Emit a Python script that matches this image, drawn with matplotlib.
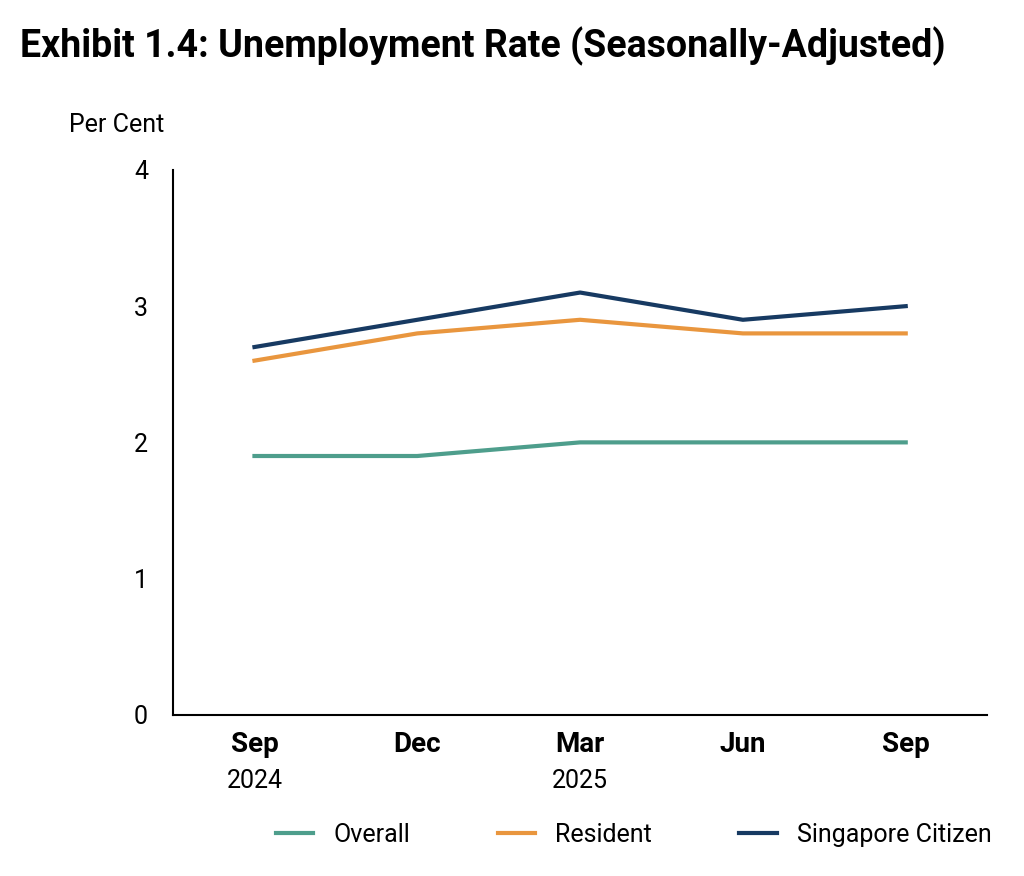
import matplotlib
matplotlib.use("Agg")
import matplotlib.pyplot as plt

plt.rcParams['font.family'] = ['Roboto', 'DejaVu Sans']

quarters = ["Sep", "Dec", "Mar", "Jun", "Sep"]
years = ["2024", "", "2025", "", ""]
overall = [1.9, 1.9, 2.0, 2.0, 2.0]
resident = [2.6, 2.8, 2.9, 2.8, 2.8]
citizen = [2.7, 2.9, 3.1, 2.9, 3.0]

colors = {"Overall": "#4E9E8C", "Resident": "#E9963E", "Singapore Citizen": "#173A62"}

fig = plt.figure(figsize=(10.24, 8.76), dpi=100)
ax = fig.add_axes([0.169, 0.184, 0.795, 0.622])

x = list(range(len(quarters)))
ax.plot(x, overall, color=colors["Overall"], lw=3, label="Overall")
ax.plot(x, resident, color=colors["Resident"], lw=3, label="Resident")
ax.plot(x, citizen, color=colors["Singapore Citizen"], lw=3, label="Singapore Citizen")

ax.set_xlim(-0.5, 4.5)
ax.set_ylim(0, 4)
ax.set_yticks([0, 1, 2, 3, 4])
ax.set_xticks(x)
ax.set_xticklabels(quarters, fontsize=20, fontweight="bold")
for xi, yr in zip(x, years):
    if yr:
        ax.text(xi, -0.4, yr, ha="center", va="top", fontsize=18,
                transform=ax.transData)
ax.tick_params(axis="y", labelsize=18, length=0, pad=18)
ax.tick_params(axis="x", length=0, pad=12)
for s in ["top", "right"]:
    ax.spines[s].set_visible(False)
ax.spines["left"].set_linewidth(1.5)
ax.spines["bottom"].set_linewidth(1.5)

fig.text(0.067, 0.857, "Per Cent", fontsize=18, ha="left", va="center")
fig.text(0.02, 0.947, "Exhibit 1.4: Unemployment Rate (Seasonally-Adjusted)",
         fontsize=27, fontweight="bold", ha="left", va="center")

fig.legend(loc="center", bbox_to_anchor=(0.619, 0.047), ncol=3, frameon=False,
           fontsize=18, handlelength=1.5, columnspacing=3.5, handletextpad=0.8)

fig.savefig("out.png", dpi=100)
